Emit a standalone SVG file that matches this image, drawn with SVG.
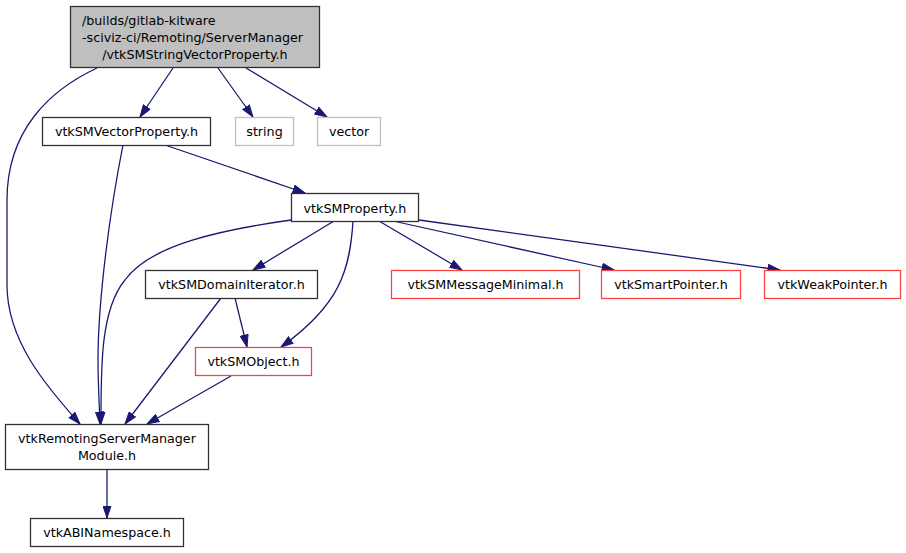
<svg xmlns="http://www.w3.org/2000/svg" width="906" height="553" viewBox="0 0 906 553">
<style>
text{font-family:"DejaVu Sans",sans-serif;font-size:12.7px;fill:#000}
.n{fill:#fff;stroke:#303030;stroke-width:1.27}
.g{fill:#fff;stroke:#bfbfbf;stroke-width:1.27}
.r{fill:#fff;stroke:#ff4040;stroke-width:1.27}
.root{fill:#bfbfbf;stroke:#303030;stroke-width:1.27}
.e{fill:none;stroke:#191970;stroke-width:1.27;marker-end:url(#a)}
.c{text-anchor:middle}
</style>
<defs>
<marker id="a" viewBox="0 0 13 9" refX="12.5" refY="4.5" markerWidth="13" markerHeight="9" orient="auto" markerUnits="userSpaceOnUse">
<path d="M0.5,0.5 L12.5,4.5 L0.5,8.5 z" fill="#191970" stroke="#191970" stroke-width="1"/>
</marker>
</defs>
<rect width="906" height="553" fill="#fff"/>
<g id="edges">
<path class="e" d="M97,68 C50,90 7,130 7,200 L7,285 C7,340 45,385 80,424"/>
<path class="e" d="M173,68 L140,117"/>
<path class="e" d="M218,68 L253,117"/>
<path class="e" d="M246,68 L327,117"/>
<path class="e" d="M123,145 C110,210 98,300 98,360 C98,380 99,400 100,424"/>
<path class="e" d="M165,145 L305,193"/>
<path class="e" d="M291,220 C220,230 150,245 125,280 C100,310 101,370 101,424"/>
<path class="e" d="M334,221 L253,270"/>
<path class="e" d="M353,221 C350,270 340,305 281,347"/>
<path class="e" d="M379,221 L462,270"/>
<path class="e" d="M393,221 L614,270"/>
<path class="e" d="M419,220 L780,270"/>
<path class="e" d="M235,298 L247,347"/>
<path class="e" d="M221,298 L125,424"/>
<path class="e" d="M231,376 L147,424"/>
<path class="e" d="M107,470 L107,518"/>
</g>
<g id="root">
<rect class="root" x="70.5" y="6.5" width="249" height="61"/>
<text x="82" y="25">/builds/gitlab-kitware</text>
<text x="82" y="42">-sciviz-ci/Remoting/ServerManager</text>
<text class="c" x="195" y="59">/vtkSMStringVectorProperty.h</text>
</g>
<g id="vtkSMVectorProperty">
<rect class="n" x="42.5" y="117.5" width="168" height="28"/>
<text class="c" x="126.5" y="136">vtkSMVectorProperty.h</text>
</g>
<g id="string">
<rect class="g" x="235.5" y="117.5" width="58" height="28"/>
<text class="c" x="264.5" y="136">string</text>
</g>
<g id="vector">
<rect class="g" x="317.5" y="117.5" width="63" height="28"/>
<text class="c" x="349" y="136">vector</text>
</g>
<g id="vtkSMProperty">
<rect class="n" x="291.5" y="193.5" width="127" height="28"/>
<text class="c" x="355" y="212.5">vtkSMProperty.h</text>
</g>
<g id="vtkSMDomainIterator">
<rect class="n" x="145.5" y="270.5" width="172" height="28"/>
<text class="c" x="231.5" y="289">vtkSMDomainIterator.h</text>
</g>
<g id="vtkSMMessageMinimal">
<rect class="r" x="391.5" y="270.5" width="188" height="28"/>
<text class="c" x="485.5" y="289">vtkSMMessageMinimal.h</text>
</g>
<g id="vtkSmartPointer">
<rect class="r" x="601.5" y="270.5" width="139" height="28"/>
<text class="c" x="671" y="289">vtkSmartPointer.h</text>
</g>
<g id="vtkWeakPointer">
<rect class="r" x="764.5" y="270.5" width="136" height="28"/>
<text class="c" x="832.5" y="289">vtkWeakPointer.h</text>
</g>
<g id="vtkSMObject">
<rect x="195.5" y="347.5" width="116" height="28" fill="#fff" stroke="#ff4040" stroke-width="1.27"/>
<text class="c" x="253.5" y="366">vtkSMObject.h</text>
</g>
<g id="vtkRemotingServerManagerModule">
<rect class="n" x="5.5" y="424.5" width="203" height="45"/>
<text class="c" x="107" y="443">vtkRemotingServerManager</text>
<text class="c" x="107" y="460">Module.h</text>
</g>
<g id="vtkABINamespace">
<rect class="n" x="30.5" y="518.5" width="153" height="28"/>
<text class="c" x="107" y="537">vtkABINamespace.h</text>
</g>
</svg>
